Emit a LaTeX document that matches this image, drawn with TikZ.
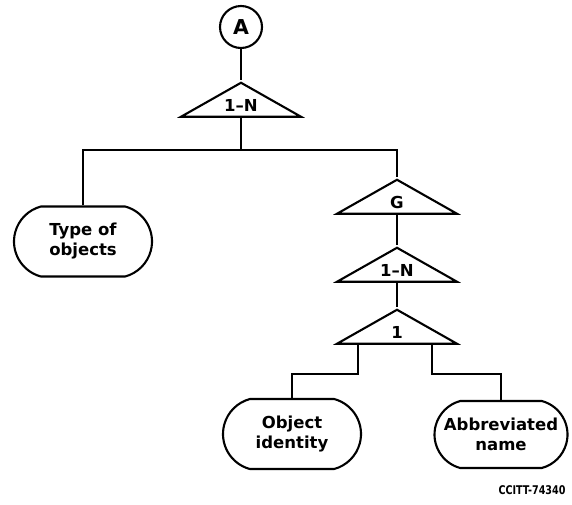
\documentclass[tikz,border=0pt]{standalone}
\usepackage{fontspec}
\setmainfont{DejaVu Sans}
\usetikzlibrary{positioning, calc, shapes.geometric, shapes.misc}

\begin{document}
\begin{tikzpicture}[x=1pt, y=-1pt, line width=2.1pt,
    every node/.style={font=\fontsize{16.5}{20}\selectfont\bfseries, align=center},
    tri/.style={draw, isosceles triangle, shape border rotate=90, isosceles triangle stretches,
        minimum width=120pt, minimum height=34pt, inner sep=0pt},
    tritext/.style={label={[anchor=base, yshift=6.5pt]lower side:#1}},
    pill/.style={draw, rounded rectangle, rounded rectangle arc length=150, minimum width=138pt, minimum height=70pt, inner sep=0pt}]
        \useasboundingbox (0,0) rectangle (572,504);

        \node[draw, circle, minimum size=42pt, inner sep=0pt, font=\fontsize{20.5}{21}\selectfont\bfseries] (a) at (241,27) {A}; % connector A
        \node[tri, tritext=1--N, anchor=apex] (t1) at (241,80) {}; % repeat 1 to N
        \node[pill] (types) at (83,241.5) {Type of\\objects};
        \node[tri, tritext=G, anchor=apex] (tg) at (397,177) {}; % group
        \node[tri, tritext=1--N, anchor=apex] (tn) at (397,245) {};
        \node[tri, tritext=1, anchor=apex] (tone) at (397,307) {}; % exactly one
        \node[pill] (objid) at (292,434) {Object\\identity};
        \node[pill, minimum width=133pt, minimum height=67pt] (abbr) at (501,434.5) {Abbreviated\\name};

        \draw (a) -- (t1.apex);
        \draw (t1.lower side) -- ++(0,32) coordinate (split);
        \draw (types.north) |- (split) -| (tg.apex);
        \draw (tg.lower side) -- (tn.apex);
        \draw (tn.lower side) -- (tone.apex);

        % branches under the last triangle
        \draw ([xshift=-39pt]tone.lower side) -- ++(0,29) -| (objid.north);
        \draw ([xshift=35pt]tone.lower side) -- ++(0,29) -| (abbr.north);

        \node[font=\fontsize{12}{12}\selectfont\bfseries] (ref) at (532,490) {\scalebox{0.8}[1]{CCITT-74340}};
\end{tikzpicture}
\end{document}
